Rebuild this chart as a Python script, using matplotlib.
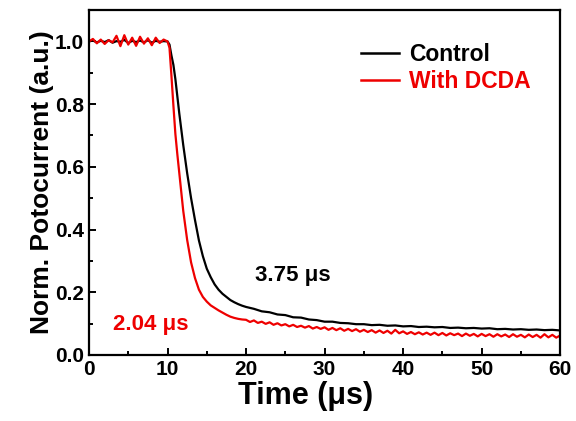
import matplotlib
matplotlib.use("Agg")
import matplotlib.pyplot as plt
from matplotlib.ticker import MultipleLocator

plt.rcParams['font.family'] = ['Liberation Sans', 'DejaVu Sans']
plt.rcParams['font.weight'] = 'bold'

# ---- data ----
plateau_t = [0, 0.5, 1, 1.5, 2, 2.5, 3, 3.5, 4, 4.5, 5, 5.5, 6, 6.5, 7, 7.5, 8, 8.5, 9, 9.5, 10]
ctrl_plateau = [1.0, 1.003, 0.997, 1.002, 0.998, 1.004, 0.996, 1.001, 0.999, 1.005, 0.995,
                1.002, 0.998, 1.003, 0.997, 1.004, 0.996, 1.002, 0.999, 1.001, 1.0]
dcda_plateau = [1.0, 1.008, 0.994, 1.006, 0.992, 1.004, 0.997, 1.018, 0.985, 1.02, 0.99,
                1.012, 0.986, 1.015, 0.993, 1.01, 0.988, 1.012, 0.995, 1.006, 1.0]

ctrl_drop_t = [10.25, 10.5, 10.75, 11.0, 11.5, 12.0, 12.5, 13.0, 13.5, 14.0, 14.5, 15.0,
               15.5, 16.0, 16.5, 17.0, 17.5, 18.0, 18.5, 19.0, 19.5]
ctrl_drop = [0.99, 0.955, 0.925, 0.88, 0.77, 0.67, 0.58, 0.50, 0.43, 0.365, 0.315, 0.275,
             0.248, 0.225, 0.208, 0.195, 0.185, 0.175, 0.168, 0.162, 0.157]
dcda_drop_t = [10.25, 10.5, 10.75, 11.0, 11.25, 11.5, 11.75, 12.0, 12.5, 13.0, 13.5, 14.0,
               14.5, 15.0, 15.5, 16.0, 16.5, 17.0, 17.5, 18.0, 18.5, 19.0, 19.5]
dcda_drop = [0.98, 0.89, 0.795, 0.705, 0.64, 0.58, 0.52, 0.46, 0.367, 0.295, 0.245, 0.208,
             0.185, 0.17, 0.158, 0.15, 0.142, 0.135, 0.128, 0.122, 0.118, 0.115, 0.113]

ctrl_tail_t = [20, 21, 22, 23, 24, 25, 26, 27, 28, 29, 30, 31, 32, 33, 34, 35, 36, 37, 38, 39,
               40, 41, 42, 43, 44, 45, 46, 47, 48, 49, 50, 51, 52, 53, 54, 55, 56, 57, 58, 59, 60]
ctrl_tail = [0.153, 0.147, 0.139, 0.136, 0.129, 0.127, 0.120, 0.119, 0.113, 0.111, 0.106,
             0.106, 0.102, 0.101, 0.098, 0.098, 0.095, 0.096, 0.093, 0.094, 0.091,
             0.092, 0.089, 0.090, 0.088, 0.089, 0.086, 0.087, 0.085, 0.086, 0.084,
             0.085, 0.082, 0.083, 0.081, 0.082, 0.080, 0.081, 0.079, 0.080, 0.078]

dcda_tail_t = [20.0, 20.5, 21.0, 21.5, 22.0, 22.5, 23.0, 23.5, 24.0, 24.5, 25.0, 25.5, 26.0,
               26.5, 27.0, 27.5, 28.0, 28.5, 29.0, 29.5, 30.0, 30.5, 31.0, 31.5, 32.0, 32.5,
               33.0, 33.5, 34.0, 34.5, 35.0, 35.5, 36.0, 36.5, 37.0, 37.5, 38.0, 38.5, 39.0,
               39.5, 40.0, 40.5, 41.0, 41.5, 42.0, 42.5, 43.0, 43.5, 44.0, 44.5, 45.0, 45.5,
               46.0, 46.5, 47.0, 47.5, 48.0, 48.5, 49.0, 49.5, 50.0, 50.5, 51.0, 51.5, 52.0,
               52.5, 53.0, 53.5, 54.0, 54.5, 55.0, 55.5, 56.0, 56.5, 57.0, 57.5, 58.0, 58.5,
               59.0, 59.5, 60.0]
dcda_tail = [0.112, 0.105, 0.110, 0.102, 0.106, 0.099, 0.104, 0.096, 0.101, 0.094, 0.098,
             0.091, 0.096, 0.089, 0.093, 0.087, 0.092, 0.084, 0.089, 0.083, 0.088, 0.080,
             0.086, 0.079, 0.085, 0.077, 0.083, 0.076, 0.082, 0.074, 0.080, 0.073, 0.079,
             0.071, 0.078, 0.070, 0.077, 0.068, 0.080, 0.069, 0.075, 0.067, 0.073, 0.066,
             0.072, 0.065, 0.071, 0.064, 0.071, 0.063, 0.070, 0.062, 0.069, 0.063, 0.068,
             0.060, 0.068, 0.061, 0.067, 0.059, 0.067, 0.060, 0.066, 0.058, 0.066, 0.059,
             0.065, 0.057, 0.066, 0.058, 0.064, 0.056, 0.065, 0.057, 0.064, 0.055, 0.066,
             0.056, 0.064, 0.055, 0.062]

ctrl_t = plateau_t + ctrl_drop_t + ctrl_tail_t
ctrl_v = ctrl_plateau + ctrl_drop + ctrl_tail
dcda_t = plateau_t + dcda_drop_t + dcda_tail_t
dcda_v = dcda_plateau + dcda_drop + dcda_tail

labels = ["Control", "With DCDA"]
colors = ["black", "#ee0000"]
ann_text = ["3.75 \u03bcs", "2.04 \u03bcs"]
ann_pos = [(26.0, 0.252), (7.9, 0.096)]

# ---- figure ----
fig = plt.figure(figsize=(5.76, 4.21), dpi=100)
ax = fig.add_axes([0.1545, 0.157, 0.818, 0.819])

ax.plot(ctrl_t, ctrl_v, color=colors[0], lw=1.6, label=labels[0])
ax.plot(dcda_t, dcda_v, color=colors[1], lw=1.6, label=labels[1])

ax.set_xlim(0, 60)
ax.set_ylim(0, 1.1)
ax.xaxis.set_major_locator(MultipleLocator(10))
ax.xaxis.set_minor_locator(MultipleLocator(5))
ax.yaxis.set_major_locator(MultipleLocator(0.2))
ax.yaxis.set_minor_locator(MultipleLocator(0.1))
ax.yaxis.set_major_formatter(plt.FuncFormatter(lambda v, p: f"{v:.1f}"))

for s in ax.spines.values():
    s.set_linewidth(1.6)
ax.tick_params(which='both', direction='in', width=1.4, labelsize=15)
ax.tick_params(which='major', length=5)
ax.tick_params(which='minor', length=3)
for lab in ax.get_xticklabels() + ax.get_yticklabels():
    lab.set_fontweight('bold')

ax.set_xlabel("Time (\u03bcs)", fontsize=22, fontweight='bold', labelpad=0)
ax.xaxis.set_label_coords(0.459, -0.075, transform=ax.transAxes)
ax.xaxis.label.set_va('top')
ax.set_ylabel("Norm. Potocurrent (a.u.)", fontsize=19, fontweight='bold', labelpad=1)

for (x, y), txt, c in zip(ann_pos, ann_text, colors):
    ax.text(x, y, txt, color=c, fontsize=16, fontweight='bold', ha='center', va='center')

leg = ax.legend(loc='upper right', frameon=False, fontsize=16.5, handlelength=1.65,
                handletextpad=0.45, labelspacing=0.2, bbox_to_anchor=(0.982, 0.965))
for t, c in zip(leg.get_texts(), colors):
    t.set_color(c)
    t.set_fontweight('bold')
for l in leg.get_lines():
    l.set_linewidth(1.8)

fig.savefig("out.png", dpi=100)
